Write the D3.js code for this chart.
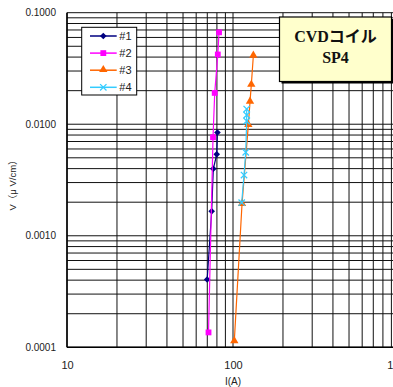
<!DOCTYPE html>
<html lang="ja">
<head>
<meta charset="UTF-8">
<script src="https://d3js.org/d3.v7.min.js"></script>
<style>
  body { margin: 0; background: #fff; }
</style>
</head>
<body>
<script>
  // データ
  const seriesNames = ["#1", "#2", "#3", "#4"];
  const current1 = [69.9, 74.4, 76.1, 79.8, 80.6];
  const volt1 = [0.000405, 0.00166, 0.00399, 0.00537, 0.00843];
  const current2 = [71.2, 75.8, 77.6, 81.0, 82.4];
  const volt2 = [0.000136, 0.00764, 0.0191, 0.0422, 0.0667];
  const current3 = [101.8, 113.3, 123.7, 126.6, 128.9, 132.6];
  const volt3 = [0.000113, 0.00192, 0.00984, 0.0159, 0.0225, 0.0411];
  const current4 = [112.8, 116.5, 119.3, 120.9, 120.9, 120.9];
  const volt4 = [0.00198, 0.0035, 0.0056, 0.01068, 0.01209, 0.01369];
  const xTickLabels = [10, 100, 1000];
  const yTickLabels = [0.0001, 0.001, 0.01, 0.1];

  const width = 393, height = 387;
  const plotL = 67, plotR = 399, plotT = 12.7, plotB = 347.3;
  const sans = '"Liberation Sans", Arial, "Noto Sans CJK JP", sans-serif';

  const svg = d3.select("body").append("svg")
    .attr("width", width)
    .attr("height", height)
    .style("font-family", sans);

  const x = d3.scaleLog().domain([10, 1000]).range([plotL, plotR]);
  const y = d3.scaleLog().domain([0.0001, 0.1]).range([plotB, plotT]);

  // グリッド
  const grid = svg.append("g").attr("stroke", "#111").attr("stroke-width", 1);
  grid.selectAll(".vg").data(x.ticks()).enter().append("line")
    .attr("x1", d => x(d)).attr("x2", d => x(d))
    .attr("y1", plotT).attr("y2", plotB);
  grid.selectAll(".hg").data(y.ticks()).enter().append("line")
    .attr("x1", plotL).attr("x2", plotR)
    .attr("y1", d => y(d)).attr("y2", d => y(d));

  // 軸
  svg.append("line").attr("x1", plotL).attr("x2", plotL).attr("y1", plotT).attr("y2", plotB)
    .attr("stroke", "#000").attr("stroke-width", 1.5);
  svg.append("line").attr("x1", plotL).attr("x2", plotR).attr("y1", plotB).attr("y2", plotB)
    .attr("stroke", "#000").attr("stroke-width", 1.5);

  const yAxis = svg.append("g")
    .attr("transform", `translate(${plotL},0)`)
    .call(d3.axisLeft(y).tickValues(yTickLabels).tickFormat(d3.format(".4f")).tickSize(0).tickPadding(11));
  yAxis.select(".domain").remove();
  yAxis.attr("font-family", null).attr("font-size", null);
  yAxis.selectAll("text").style("font-size", "10px").attr("fill", "#222");

  const xAxis = svg.append("g")
    .attr("transform", `translate(0,${plotB})`)
    .call(d3.axisBottom(x).tickValues(xTickLabels).tickFormat(d3.format("d")).tickSize(0).tickPadding(14));
  xAxis.select(".domain").remove();
  xAxis.attr("font-family", null).attr("font-size", null);
  xAxis.selectAll("text").style("font-size", "11px").attr("fill", "#222");

  // 軸ラベル
  svg.append("text")
    .attr("x", x(100)).attr("y", 384.5)
    .attr("text-anchor", "middle").style("font-size", "10px").attr("fill", "#222")
    .text("I(A)");
  svg.append("text")
    .attr("transform", "translate(16,183) rotate(-90)")
    .attr("text-anchor", "middle").style("font-size", "9.5px").attr("fill", "#222")
    .text("V（μ V/cm）");

  // 系列
  const series = [
    { name: seriesNames[0], xs: current1, ys: volt1, color: "#000080", marker: "diamond" },
    { name: seriesNames[1], xs: current2, ys: volt2, color: "#FF00FF", marker: "square" },
    { name: seriesNames[2], xs: current3, ys: volt3, color: "#FF6600", marker: "triangle" },
    { name: seriesNames[3], xs: current4, ys: volt4, color: "#33CCFF", marker: "x" }
  ];

  const line = d3.line().x(d => x(d[0])).y(d => y(d[1]));

  function drawMarker(g, type, color) {
    if (type === "diamond") {
      g.append("path").attr("d", d3.symbol(d3.symbolSquare, 22)())
        .attr("transform", "rotate(45)").attr("fill", color);
    } else if (type === "square") {
      g.append("path").attr("d", d3.symbol(d3.symbolSquare, 34)()).attr("fill", color);
    } else if (type === "triangle") {
      g.append("path").attr("d", d3.symbol(d3.symbolTriangle, 30)())
        .attr("transform", "translate(0,-0.5)").attr("fill", color);
    } else {
      g.append("path").attr("d", d3.symbol(d3.symbolX, 28)())
        .attr("fill", "none").attr("stroke", color).attr("stroke-width", 1.3);
    }
  }

  series.forEach(s => {
    const pts = s.xs.map((v, i) => [v, s.ys[i]]);
    svg.append("path").datum(pts)
      .attr("d", line).attr("fill", "none")
      .attr("stroke", s.color).attr("stroke-width", 1.2);
    pts.forEach(p => {
      const g = svg.append("g").attr("transform", `translate(${x(p[0])},${y(p[1])})`);
      drawMarker(g, s.marker, s.color);
    });
  });

  // 凡例
  const legend = svg.append("g");
  legend.append("rect")
    .attr("x", 81.7).attr("y", 27.3).attr("width", 55).attr("height", 67.7)
    .attr("fill", "#fff").attr("stroke", "#000").attr("stroke-width", 1);
  series.forEach((s, i) => {
    const ly = 36 + i * 17.1;
    legend.append("line").attr("x1", 90).attr("x2", 116.7).attr("y1", ly).attr("y2", ly)
      .attr("stroke", s.color).attr("stroke-width", 1.5);
    const g = legend.append("g").attr("transform", `translate(103.3,${ly})`);
    drawMarker(g, s.marker, s.color);
    legend.append("text").attr("x", 119.3).attr("y", ly).attr("dy", "0.36em")
      .style("font-size", "11px").attr("fill", "#222").text(s.name);
  });

  // タイトル
  svg.append("rect").attr("x", 281.5).attr("y", 19).attr("width", 112).attr("height", 64.5)
    .attr("fill", "#000");
  svg.append("rect").attr("x", 279.5).attr("y", 17).attr("width", 112).attr("height", 64.5)
    .attr("fill", "#FFFFCC").attr("stroke", "#000").attr("stroke-width", 1.2);
  const title = svg.append("text")
    .attr("text-anchor", "middle")
    .style("font-family", '"Liberation Serif", "Times New Roman", "Noto Sans CJK JP", serif')
    .style("font-size", "16px").style("font-weight", "bold")
    .attr("fill", "#111");
  title.append("tspan").attr("x", 335.5).attr("y", 41.7).text("CVDコイル");
  title.append("tspan").attr("x", 335.5).attr("y", 63.3).text("SP4");
</script>
</body>
</html>
